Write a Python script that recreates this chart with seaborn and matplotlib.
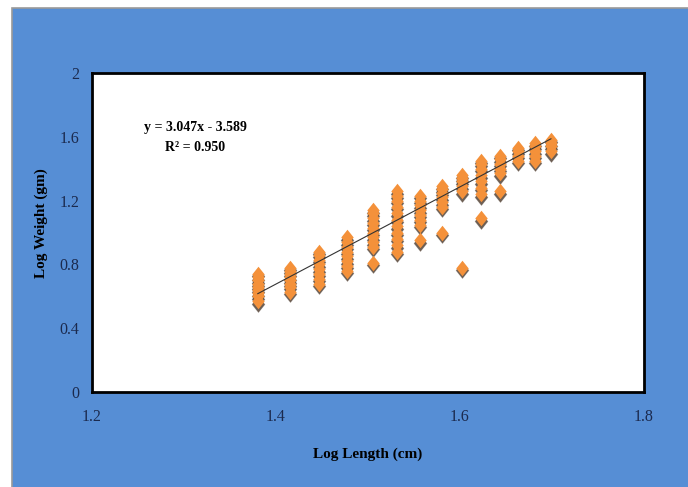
import matplotlib
matplotlib.use("Agg")
import matplotlib.pyplot as plt
import numpy as np
import pandas as pd
import seaborn as sns
from matplotlib.markers import MarkerStyle
from matplotlib.path import Path
from matplotlib.patches import Rectangle
from matplotlib.transforms import offset_copy

sns.set_theme(style="white")
plt.rcParams["font.family"] = ["Liberation Serif", "DejaVu Serif"]

# log10 of total length (cm) for each length class
log_length = [1.380, 1.415, 1.447, 1.477, 1.505, 1.531, 1.556,
              1.580, 1.602, 1.623, 1.643, 1.663, 1.681, 1.699]
log_weight = [
    [0.57, 0.60, 0.62, 0.64, 0.66, 0.68, 0.70, 0.72, 0.74],
    [0.63, 0.66, 0.68, 0.70, 0.72, 0.74, 0.76, 0.78],
    [0.68, 0.71, 0.74, 0.77, 0.80, 0.83, 0.86, 0.88],
    [0.76, 0.79, 0.82, 0.85, 0.88, 0.91, 0.94, 0.97],
    [0.81, 0.91, 0.94, 0.97, 1.00, 1.03, 1.06, 1.09, 1.12, 1.14],
    [0.88, 0.92, 0.96, 1.00, 1.04, 1.08, 1.12, 1.16, 1.20, 1.23, 1.26],
    [0.95, 1.05, 1.08, 1.11, 1.14, 1.17, 1.20, 1.23],
    [1.00, 1.16, 1.19, 1.22, 1.25, 1.27, 1.29],
    [0.78, 1.26, 1.29, 1.32, 1.34, 1.36],
    [1.09, 1.24, 1.28, 1.32, 1.36, 1.40, 1.43, 1.45],
    [1.26, 1.37, 1.40, 1.43, 1.46, 1.48],
    [1.45, 1.48, 1.51, 1.53],
    [1.45, 1.48, 1.51, 1.54, 1.56],
    [1.51, 1.54, 1.56, 1.58],
]
slope, intercept, r2 = 3.047, -3.589, 0.950
x_ticks = [1.2, 1.4, 1.6, 1.8]
y_ticks = [0, 0.4, 0.8, 1.2, 1.6, 2]

df = pd.DataFrame(
    [(x, y) for x, ys in zip(log_length, log_weight) for y in ys],
    columns=["log_length", "log_weight"],
)

BLUE = "#568ED5"
ORANGE = "#F4913A"
diamond = MarkerStyle(Path([(0, 1), (0.8, 0), (0, -1), (-0.8, 0), (0, 1)]))

fig = plt.figure(figsize=(6.88, 4.87), dpi=100)
fig.patch.set_facecolor("white")
bg = Rectangle((12 / 688, -0.01), 1, 1.01 - 8 / 487, transform=fig.transFigure,
               facecolor=BLUE, edgecolor="#9a9a9a", lw=1.2, zorder=-10)
fig.add_artist(bg)

ax = fig.add_axes([92 / 688, 95 / 487, 552 / 688, 319 / 487])
ax.set_zorder(1)
ax.set_facecolor("white")

# soft drop shadow under the markers
shadow_tr = offset_copy(ax.transData, fig=fig, x=0, y=-2.5, units="dots")
sns.scatterplot(data=df, x="log_length", y="log_weight", ax=ax, marker=diamond,
                s=150, color="#3a2718", alpha=0.35, linewidth=0, transform=shadow_tr,
                legend=False, zorder=2)
sns.scatterplot(data=df, x="log_length", y="log_weight", ax=ax, marker=diamond,
                s=130, color="#3a2718", alpha=0.6, linewidth=0, transform=shadow_tr,
                legend=False, zorder=2)
sns.scatterplot(data=df, x="log_length", y="log_weight", ax=ax, marker=diamond,
                s=125, color=ORANGE, linewidth=0, legend=False, zorder=3)

# fitted trend line from the reported equation
xl = np.array([min(log_length), max(log_length)])
sns.lineplot(x=xl, y=slope * xl + intercept, ax=ax, color="#333333", lw=0.8, zorder=4)

ax.text(0.187, 0.828, f"y = {slope:.3f}x - {abs(intercept):.3f}", transform=ax.transAxes,
        ha="center", va="center", fontsize=10, fontweight="bold", color="black")
ax.text(0.187, 0.768, f"R\u00b2 = {r2:.3f}", transform=ax.transAxes,
        ha="center", va="center", fontsize=10, fontweight="bold", color="black")

ax.set_xlim(1.2, 1.8)
ax.set_ylim(0, 2)
ax.set_xticks(x_ticks)
ax.set_yticks(y_ticks)
ax.set_xticklabels([f"{t:g}" for t in x_ticks])
ax.set_yticklabels([f"{t:g}" for t in y_ticks])
ax.tick_params(axis="x", length=0, pad=12, labelsize=11.5, labelcolor="#1b2a4e")
ax.tick_params(axis="y", length=0, pad=9, labelsize=11.5, labelcolor="#1b2a4e")
for sp in ax.spines.values():
    sp.set_visible(True)
    sp.set_color("black")
    sp.set_linewidth(2)
ax.grid(False)

ax.set_xlabel("Log Length (cm)", fontsize=11, fontweight="bold", color="black")
ax.set_ylabel("Log Weight (gm)", fontsize=11, fontweight="bold", color="black")
ax.xaxis.set_label_coords(0.5, -0.175)
ax.yaxis.set_label_coords(-0.08, 0.53)

fig.savefig("out.png", dpi=100, facecolor=fig.get_facecolor())
